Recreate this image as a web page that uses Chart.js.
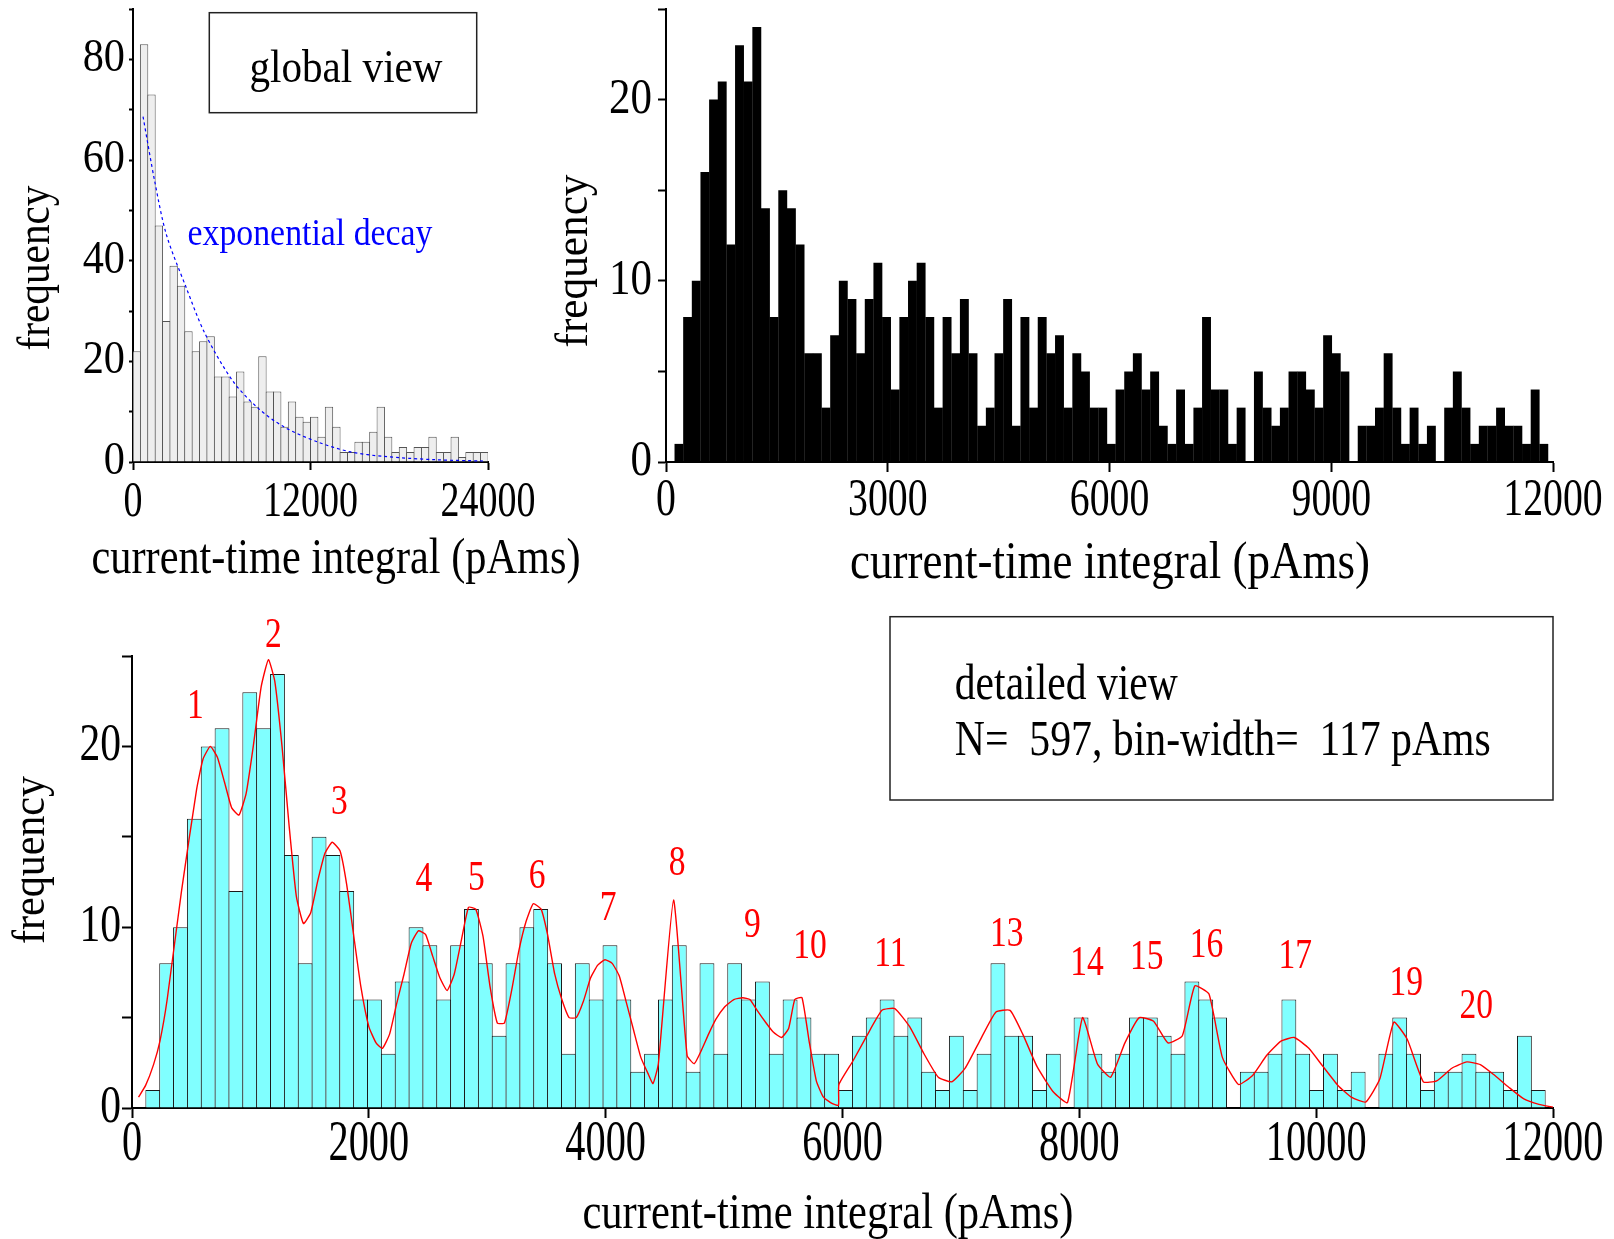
<!DOCTYPE html>
<html>
<head>
<meta charset="utf-8">
<script src="https://cdn.jsdelivr.net/npm/chart.js@4.4.1/dist/chart.umd.min.js"></script>
<style>
  html, body { margin: 0; padding: 0; background: #fff; }
  #wrap { position: relative; width: 1614px; height: 1239px; }
  canvas { position: absolute; left: 0; top: 0; }
</style>
</head>
<body>
<div id="wrap">
  <canvas id="globalChart" width="1614" height="1239"></canvas>
  <canvas id="overviewChart" width="1614" height="1239"></canvas>
  <canvas id="detailChart" width="1614" height="1239"></canvas>
</div>
<script>
// global view: bins of 500 pAms, 0 .. 24000
const globalBinWidth = 500;
const globalCounts = [22, 83, 73, 47, 28, 39, 35, 26, 22, 24,
                      25, 17, 17, 13, 18, 12, 11, 21, 14, 14,
                      7, 12, 9, 8, 9, 5, 11, 7, 2, 2,
                      4, 4, 6, 11, 5, 2, 3, 2, 3, 3,
                      5, 2, 2, 5, 1, 2, 2, 2];

// dashed "exponential decay" curve
const decayX = [679, 1472, 2264, 3577, 4868, 6792, 8491, 10189, 12453, 14717, 16981, 20377, 23660];
const decayY = [68.6, 55.7, 45.1, 34.8, 25.5, 15.9, 10.6, 7.0, 4.0, 2.0, 1.1, 0.46, 0.2];

// detailed view: N = 597, bin-width = 117 pAms, first bin starts at 117
const detailBinWidth = 117;
const detailFirstEdge = 117;
const detailCounts = [1, 8, 10, 16, 20, 21, 12, 23, 21, 24,
                      14, 8, 15, 14, 12, 6, 6, 3, 7, 10,
                      9, 6, 9, 11, 8, 4, 8, 10, 11, 8,
                      3, 8, 6, 9, 6, 2, 3, 6, 9, 2,
                      8, 3, 8, 6, 7, 3, 6, 5, 3, 3,
                      1, 4, 5, 6, 4, 5, 2, 1, 4, 1,
                      3, 8, 4, 4, 1, 3, 0, 5, 3, 2,
                      3, 5, 5, 4, 3, 7, 6, 5, 0, 2,
                      2, 3, 6, 3, 1, 3, 1, 2, 0, 3,
                      5, 3, 1, 2, 2, 3, 2, 2, 1, 4, 1];

// red smoothed curve (vertices)
const smoothX = [55, 115, 182, 236, 297, 418, 545, 600, 661, 721, 782, 842, 903, 964, 1024, 1091, 1152, 1206,
                 1267, 1327, 1388, 1448, 1509, 1570, 1630, 1691, 1758, 1812, 1873, 1933, 2000, 2061, 2115,
                 2176, 2236, 2297, 2358, 2418, 2479, 2539, 2600, 2661, 2721, 2782, 2842, 2903, 2964, 3024,
                 3085, 3145, 3206, 3267, 3327, 3388, 3455, 3509, 3570, 3630, 3691, 3752, 3812, 3873, 3933,
                 3994, 4055, 4115, 4176, 4236, 4297, 4358, 4400, 4445, 4573, 4688, 4748, 4809, 4870, 4930,
                 5006, 5082, 5158, 5218, 5279, 5355, 5415, 5485, 5545, 5597, 5658, 5718, 5779, 5839, 5915,
                 5966, 5970, 6088, 6206, 6333, 6442, 6567, 6688, 6809, 6924, 7036, 7158, 7294, 7415, 7521,
                 7642, 7779, 7900, 8027, 8152, 8264, 8385, 8506, 8627, 8748, 8870, 8975, 9095, 9208, 9344,
                 9463, 9581, 9703, 9816, 9938, 10057, 10184, 10297, 10419, 10537, 10656, 10769, 10905, 11018,
                 11146, 11273, 11386, 11499, 11626, 11754, 11881, 12000];
const smoothY = [0.6, 1.25, 2.4, 3.7, 6.0, 12.0, 17.6, 19.3, 20.0, 19.4, 18.0, 16.6, 16.2, 17.4, 20.0, 23.3, 24.8, 23.6,
                 20.0, 15.6, 11.7, 10.2, 10.8, 12.6, 14.1, 14.7, 14.2, 12.4, 9.5, 6.7, 4.5, 3.6, 3.3,
                 4.1, 5.8, 7.4, 9.1, 9.8, 9.6, 8.4, 7.2, 6.5, 7.4, 9.3, 11.1, 11.0, 9.5, 6.7,
                 4.7, 4.7, 6.5, 8.7, 10.3, 11.3, 11.0, 9.6, 7.4, 6.0, 5.0, 5.0, 5.9, 7.2, 7.9,
                 8.2, 8.0, 7.3, 5.8, 4.3, 2.8, 1.9, 1.35, 2.45, 11.5, 2.9, 2.45, 3.2, 4.1, 4.9,
                 5.6, 6.0, 6.1, 6.0, 5.4, 4.7, 4.2, 3.9, 4.4, 6.0, 6.1, 3.7, 1.5, 0.6, 0.24,
                 0.15, 1.3, 2.6, 4.0, 5.4, 5.5, 4.5, 3.0, 1.7, 1.45, 2.2, 3.7, 5.3, 5.4, 4.1,
                 2.3, 0.9, 0.3, 5.0, 2.45, 1.7, 3.6, 5.0, 4.8, 3.6, 4.0, 6.75, 6.3, 2.8, 1.3,
                 1.8, 2.9, 3.7, 3.9, 3.3, 2.3, 1.25, 0.6, 0.33, 1.6, 4.75, 3.8, 1.45, 1.5,
                 2.2, 2.55, 2.4, 1.85, 1.15, 0.5, 0.2, 0.05];

// numbered peaks, positioned in data units
const peakNames = ['1', '2', '3', '4', '5', '6', '7', '8', '9', '10', '11', '13', '14', '15', '16', '17', '19', '20'];
const peakX = [535, 1195, 1752, 2464, 2909, 3421, 4021, 4604, 5239, 5725, 6404, 7387, 8065, 8570, 9074, 9823, 10760, 11352];
const peakY = [22.2, 26.1, 16.9, 12.6, 12.7, 12.8, 11.0, 13.5, 10.1, 8.9, 8.5, 9.6, 8.0, 8.3, 9.0, 8.35, 6.9, 5.6];

const SERIF = '"Liberation Serif", "Times New Roman", serif';

function drawText(ctx, str, x, y, o) {
  ctx.save();
  ctx.font = o.size + 'px ' + SERIF;
  ctx.fillStyle = o.color || '#000';
  ctx.textAlign = o.align || 'center';
  ctx.textBaseline = o.baseline || 'alphabetic';
  ctx.translate(x, y);
  if (o.rotate) ctx.rotate(o.rotate);
  let sx = o.sx || 1;
  if (o.width) sx = o.width / ctx.measureText(str).width;
  ctx.scale(sx, 1);
  ctx.fillText(str, 0, 0);
  ctx.restore();
}

// draws tick labels, titles, boxes and annotations in the figure's condensed serif
function textPlugin(spec) {
  return {
    id: 'figureText',
    afterDraw(chart) {
      const ctx = chart.ctx;
      const xs = chart.scales.x, ys = chart.scales.y;
      xs.ticks.forEach(t => {
        drawText(ctx, String(t.value), xs.getPixelForValue(t.value), spec.xTicks.y, spec.xTicks);
      });
      ys.ticks.forEach(t => {
        if (t.value % spec.yTicks.every !== 0) return;
        drawText(ctx, String(t.value), spec.yTicks.x, ys.getPixelForValue(t.value), spec.yTicks);
      });
      (spec.boxes || []).forEach(b => {
        ctx.save();
        ctx.strokeStyle = '#222';
        ctx.lineWidth = 1.5;
        ctx.strokeRect(b[0], b[1], b[2], b[3]);
        ctx.restore();
      });
      (spec.texts || []).forEach(t => drawText(ctx, t.text, t.x, t.y, t));
      if (spec.peaks) {
        peakNames.forEach((name, i) => {
          drawText(ctx, name, xs.getPixelForValue(peakX[i]), ys.getPixelForValue(peakY[i]), spec.peaks);
        });
      }
    }
  };
}

function axes(o) {
  return {
    x: {
      type: 'linear', min: 0, max: o.xMax, offset: false,
      ticks: { display: false, stepSize: o.xStep },
      grid: { display: true, drawOnChartArea: false, drawTicks: true, tickLength: o.xTick,
              tickWidth: 2, color: '#000', offset: false },
      border: { display: true, color: '#000', width: 2 }
    },
    y: {
      type: 'linear', min: 0, max: o.yMax,
      ticks: { display: false, stepSize: o.yStep },
      grid: { display: true, drawOnChartArea: false, drawTicks: true, tickLength: o.yTick,
              tickWidth: 2, color: '#000' },
      border: { display: true, color: '#000', width: 2 }
    }
  };
}

function baseOptions(padding, scales) {
  return {
    responsive: false,
    animation: false,
    devicePixelRatio: 1,
    events: [],
    layout: { padding: padding },
    plugins: { legend: { display: false }, tooltip: { enabled: false } },
    scales: scales
  };
}

const detailPoints = detailCounts.map((c, i) => ({
  x: detailFirstEdge + i * detailBinWidth + detailBinWidth / 2, y: c
}));

// top left: global view
new Chart(document.getElementById('globalChart'), {
  type: 'bar',
  data: {
    datasets: [
      {
        type: 'line',
        data: decayX.map((x, i) => ({ x: x, y: decayY[i] })),
        borderColor: '#0000ff', borderWidth: 1.2, borderDash: [3, 3],
        pointRadius: 0, tension: 0.3, fill: false, order: 0
      },
      {
        data: globalCounts.map((c, i) => ({ x: i * globalBinWidth + globalBinWidth / 2, y: c })),
        backgroundColor: '#eeeeee', borderColor: '#555555', borderWidth: 1,
        barPercentage: 1.13, categoryPercentage: 1, order: 1
      }
    ]
  },
  options: baseOptions({ left: 129, right: 1126, top: 9, bottom: 769 },
    axes({ xMax: 24000, xStep: 12000, xTick: 8, yMax: 90, yStep: 10, yTick: 4 })),
  plugins: [textPlugin({
    xTicks: { y: 503, size: 50, sx: 0.76, baseline: 'middle' },
    yTicks: { x: 125, every: 20, size: 46, sx: 0.92, align: 'right', baseline: 'middle' },
    boxes: [[209.3, 12.7, 267.4, 100]],
    texts: [
      { text: 'current-time integral (pAms)', x: 336, y: 573, size: 50, width: 489 },
      { text: 'frequency', x: 49, y: 268, size: 46, width: 165, rotate: -Math.PI / 2 },
      { text: 'global view', x: 346, y: 81.7, size: 47, width: 193 },
      { text: 'exponential decay', x: 310, y: 245, size: 38, width: 245, color: '#0000ff' }
    ]
  })]
});

// top right: same data, black histogram
new Chart(document.getElementById('overviewChart'), {
  type: 'bar',
  data: {
    datasets: [{
      data: detailPoints,
      backgroundColor: '#000000', borderWidth: 0,
      barPercentage: 1.03, categoryPercentage: 1
    }]
  },
  options: baseOptions({ left: 658, right: 61, top: 9, bottom: 767 },
    axes({ xMax: 12000, xStep: 3000, xTick: 10, yMax: 25, yStep: 5, yTick: 8 })),
  plugins: [textPlugin({
    xTicks: { y: 501, size: 53, sx: 0.75, baseline: 'middle' },
    yTicks: { x: 652, every: 10, size: 50, sx: 0.86, align: 'right', baseline: 'middle' },
    texts: [
      { text: 'current-time integral (pAms)', x: 1110, y: 578, size: 52, width: 520 },
      { text: 'frequency', x: 587, y: 261, size: 47, width: 173, rotate: -Math.PI / 2 }
    ]
  })]
});

// bottom: detailed view with smoothed curve and numbered peaks
new Chart(document.getElementById('detailChart'), {
  type: 'bar',
  data: {
    datasets: [
      {
        type: 'line',
        data: smoothX.map((x, i) => ({ x: x, y: smoothY[i] })),
        borderColor: '#ff0000', borderWidth: 1.4,
        pointRadius: 0, tension: 0.15, fill: false, order: 0
      },
      {
        data: detailPoints,
        backgroundColor: '#80ffff', borderColor: '#1a1a1a', borderWidth: 1,
        barPercentage: 1.072, categoryPercentage: 1, order: 1
      }
    ]
  },
  options: baseOptions({ left: 122, right: 61, top: 656, bottom: 121 },
    axes({ xMax: 12000, xStep: 2000, xTick: 10, yMax: 25, yStep: 5, yTick: 10 })),
  plugins: [textPlugin({
    xTicks: { y: 1145, size: 56, sx: 0.72, baseline: 'middle' },
    yTicks: { x: 121, every: 10, size: 52, sx: 0.8, align: 'right', baseline: 'middle' },
    boxes: [[890, 616.7, 663, 183.3]],
    texts: [
      { text: 'current-time integral (pAms)', x: 828, y: 1228, size: 50, width: 491 },
      { text: 'frequency', x: 43.6, y: 860, size: 47, width: 168, rotate: -Math.PI / 2 },
      { text: 'detailed view', x: 954.8, y: 699.3, size: 50, width: 223, align: 'left' },
      { text: 'N=  597, bin-width=  117 pAms', x: 954.8, y: 755, size: 50, width: 536, align: 'left' }
    ],
    peaks: { size: 43, sx: 0.78, color: '#ff0000', baseline: 'middle' }
  })]
});
</script>
</body>
</html>
